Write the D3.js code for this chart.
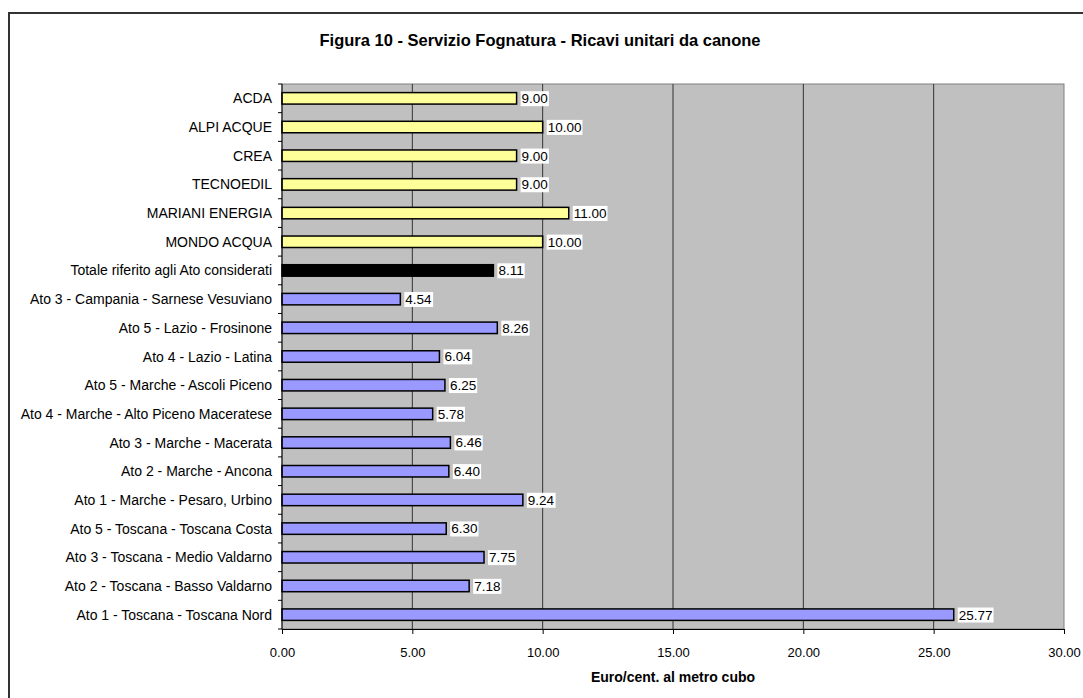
<!DOCTYPE html>
<html>
<head>
<meta charset="utf-8">
<script src="https://cdn.jsdelivr.net/npm/d3@7"></script>
<style>
  body { margin: 0; background: #fff; }
  text { font-family: "Liberation Sans", Arial, sans-serif; }
</style>
</head>
<body>
<div id="chart"></div>
<script>
// data, top to bottom as drawn
const categories = [
  "ACDA", "ALPI ACQUE", "CREA", "TECNOEDIL", "MARIANI ENERGIA", "MONDO ACQUA",
  "Totale riferito agli Ato considerati",
  "Ato 3 - Campania - Sarnese Vesuviano",
  "Ato 5 - Lazio - Frosinone",
  "Ato 4 - Lazio - Latina",
  "Ato 5 - Marche - Ascoli Piceno",
  "Ato 4 - Marche - Alto Piceno Maceratese",
  "Ato 3 - Marche - Macerata",
  "Ato 2 - Marche - Ancona",
  "Ato 1 - Marche - Pesaro, Urbino",
  "Ato 5 - Toscana - Toscana Costa",
  "Ato 3 - Toscana - Medio Valdarno",
  "Ato 2 - Toscana - Basso Valdarno",
  "Ato 1 - Toscana - Toscana Nord"
];
const values = [9.00, 10.00, 9.00, 9.00, 11.00, 10.00, 8.11, 4.54, 8.26, 6.04, 6.25, 5.78, 6.46, 6.40, 9.24, 6.30, 7.75, 7.18, 25.77];
// group: g = gestore, t = totale, a = ato
const groups = ["g","g","g","g","g","g","t","a","a","a","a","a","a","a","a","a","a","a","a"];
const xTicks = [0, 5, 10, 15, 20, 25, 30];

const colors = { g: "#FFFF99", t: "#000000", a: "#9999FF" };

const W = 1083, H = 698;
const margin = { top: 84, right: 19, bottom: 69, left: 282 };
const width = W - margin.left - margin.right;
const height = H - margin.top - margin.bottom;

const svg = d3.select("#chart").append("svg")
  .attr("width", W).attr("height", H);

// outer frame (runs off the right and bottom edge)
svg.append("rect")
  .attr("x", 9).attr("y", 13)
  .attr("width", 1100).attr("height", 700)
  .attr("fill", "none").attr("stroke", "#333").attr("stroke-width", 2);

svg.append("text")
  .attr("x", 540).attr("y", 46)
  .attr("text-anchor", "middle")
  .style("font-size", "16.5px").style("font-weight", "bold")
  .text("Figura 10 - Servizio Fognatura - Ricavi unitari da canone");

const g = svg.append("g").attr("transform", `translate(${margin.left},${margin.top})`);

const x = d3.scaleLinear().domain([0, 30]).range([0, width]);
const y = d3.scaleBand().domain(categories).range([0, height]).paddingInner(0.6).paddingOuter(0.3);

// plot background
g.append("rect")
  .attr("width", width).attr("height", height)
  .attr("fill", "#C0C0C0").attr("stroke", "#808080").attr("stroke-width", 1);

// grid lines
g.selectAll(".grid").data(xTicks.slice(1, -1)).enter().append("line")
  .attr("x1", d => x(d)).attr("x2", d => x(d))
  .attr("y1", 0).attr("y2", height)
  .attr("stroke", "#333").attr("stroke-width", 1);

// bars
g.selectAll(".bar").data(values).enter().append("rect")
  .attr("x", x(0))
  .attr("y", (d, i) => y(categories[i]))
  .attr("width", d => x(d) - x(0))
  .attr("height", y.bandwidth())
  .attr("fill", (d, i) => colors[groups[i]])
  .attr("stroke", "#000").attr("stroke-width", 1.5);

// value labels with white box
const lab = g.selectAll(".lab").data(values).enter().append("g")
  .attr("transform", (d, i) => `translate(${x(d) + 5},${y(categories[i]) + y.bandwidth() / 2})`);
lab.append("text")
  .attr("dy", "0.36em")
  .style("font-size", "13.5px")
  .text(d => d.toFixed(2))
  .each(function () {
    const b = this.getBBox();
    d3.select(this.parentNode).insert("rect", "text")
      .attr("x", b.x - 1).attr("y", b.y)
      .attr("width", b.width + 2).attr("height", b.height)
      .attr("fill", "#fff");
  });

// y axis
const yAxis = g.append("g");
yAxis.append("line")
  .attr("x1", 0).attr("x2", 0).attr("y1", 0).attr("y2", height)
  .attr("stroke", "#000");
yAxis.selectAll(".tk").data(d3.range(categories.length + 1)).enter().append("line")
  .attr("x1", -4).attr("x2", 0)
  .attr("y1", i => i * height / categories.length)
  .attr("y2", i => i * height / categories.length)
  .attr("stroke", "#000");
yAxis.selectAll(".cl").data(categories).enter().append("text")
  .attr("x", -10)
  .attr("y", d => y(d) + y.bandwidth() / 2)
  .attr("dy", "0.36em")
  .attr("text-anchor", "end")
  .style("font-size", "14px")
  .text(d => d);

// x axis
const xAxis = g.append("g")
  .attr("transform", `translate(0,${height})`)
  .call(d3.axisBottom(x).tickValues(xTicks).tickSize(5).tickPadding(14).tickFormat(d3.format(".2f")));
xAxis.select(".domain").attr("stroke", "#000");
xAxis.selectAll("text").style("font-size", "13px").style("font-family", "'Liberation Sans', Arial, sans-serif");

g.append("text")
  .attr("x", width / 2).attr("y", height + 53)
  .attr("text-anchor", "middle")
  .style("font-size", "14px").style("font-weight", "bold")
  .text("Euro/cent. al metro cubo");
</script>
</body>
</html>
